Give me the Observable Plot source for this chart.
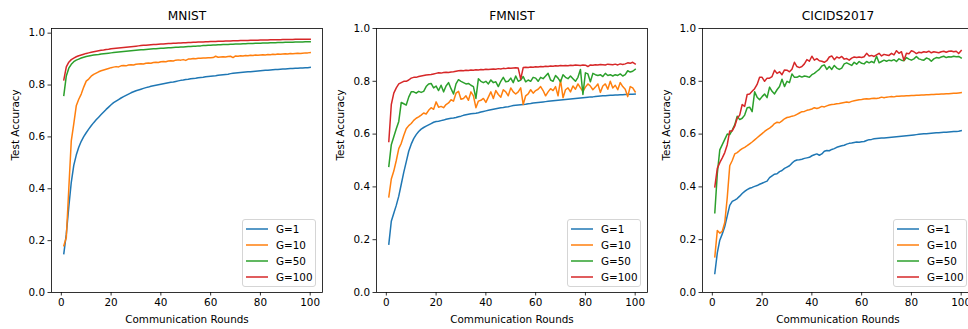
<!DOCTYPE html>
<html>
<head>
<meta charset="utf-8">
<script src="https://cdn.jsdelivr.net/npm/d3@7"></script>
<script src="https://cdn.jsdelivr.net/npm/@observablehq/plot@0.6"></script>
<style>
  body { margin: 0; background: white; }
  #root { position: relative; width: 968px; height: 329px; overflow: hidden; background: white; font-family: "DejaVu Sans", sans-serif; }
  .panel { position: absolute; top: 0; width: 327px; height: 329px; }
  .panel svg { max-width: none !important; display: block; }
  .legend { position: absolute; left: 242px; top: 219px; width: 74px; height: 68px; box-sizing: border-box;
            border: 1px solid #d5d5d5; border-radius: 3px; background: rgba(255,255,255,0.85); }
  .legend .row { position: absolute; left: 3px; height: 14px; display: flex; align-items: center; font-size: 10.4px; color: #000; white-space: nowrap; }
  .legend .row svg { margin-right: 8px; }
</style>
</head>
<body>
<div id="root"></div>
<script>
const titles = ["MNIST", "FMNIST", "CICIDS2017"];
const seriesNames = ["G=1", "G=10", "G=50", "G=100"];
const seriesColors = ["#1f77b4", "#ff7f0e", "#2ca02c", "#d62728"];
const xTicks = [0, 20, 40, 60, 80, 100];
const yTicks = [0, 0.2, 0.4, 0.6, 0.8, 1.0];
const xLabel = "Communication Rounds";
const yLabel = "Test Accuracy";

const mnist1 = [
0.150,0.225,0.330,0.425,0.490,0.530,0.560,0.583,0.601,0.616,
0.630,0.643,0.655,0.666,0.676,0.686,0.696,0.706,0.715,0.724,
0.732,0.738,0.744,0.750,0.755,0.760,0.765,0.770,0.774,0.778,
0.781,0.784,0.787,0.790,0.792,0.795,0.797,0.799,0.801,0.803,
0.805,0.807,0.809,0.811,0.812,0.814,0.816,0.818,0.819,0.821,
0.822,0.824,0.825,0.826,0.828,0.829,0.830,0.832,0.833,0.834,
0.835,0.836,0.838,0.839,0.840,0.841,0.842,0.844,0.845,0.846,
0.847,0.848,0.849,0.850,0.851,0.851,0.852,0.853,0.854,0.855,
0.856,0.857,0.857,0.858,0.859,0.860,0.860,0.861,0.862,0.862,
0.863,0.864,0.864,0.865,0.865,0.866,0.866,0.867,0.867,0.868];
const mnist10 = [
0.180,0.212,0.400,0.585,0.650,0.720,0.745,0.765,0.792,0.815,
0.823,0.834,0.841,0.846,0.851,0.855,0.858,0.861,0.864,0.867,
0.869,0.871,0.870,0.874,0.875,0.874,0.877,0.878,0.877,0.880,
0.881,0.882,0.881,0.884,0.885,0.884,0.887,0.888,0.887,0.890,
0.891,0.890,0.893,0.894,0.893,0.896,0.897,0.896,0.898,0.895,
0.900,0.900,0.902,0.901,0.903,0.903,0.904,0.904,0.905,0.905,
0.906,0.911,0.907,0.908,0.909,0.908,0.910,0.911,0.906,0.912,
0.911,0.913,0.912,0.914,0.913,0.915,0.914,0.916,0.915,0.916,
0.917,0.916,0.918,0.917,0.919,0.918,0.920,0.919,0.920,0.921,
0.920,0.922,0.921,0.922,0.923,0.922,0.923,0.924,0.924,0.925];
const mnist50 = [
0.760,0.835,0.865,0.880,0.890,0.896,0.900,0.904,0.907,0.910,
0.912,0.914,0.916,0.917,0.918,0.920,0.921,0.922,0.923,0.924,
0.925,0.926,0.927,0.928,0.929,0.930,0.931,0.932,0.933,0.934,
0.935,0.936,0.936,0.937,0.938,0.939,0.940,0.940,0.941,0.942,
0.942,0.943,0.944,0.944,0.945,0.946,0.946,0.947,0.947,0.948,
0.949,0.949,0.950,0.950,0.951,0.951,0.952,0.952,0.953,0.953,
0.954,0.954,0.955,0.955,0.956,0.956,0.956,0.957,0.957,0.958,
0.958,0.958,0.959,0.959,0.960,0.960,0.960,0.961,0.961,0.961,
0.962,0.962,0.962,0.963,0.963,0.963,0.964,0.964,0.964,0.965,
0.965,0.965,0.965,0.966,0.966,0.966,0.966,0.967,0.967,0.967];
const mnist100 = [
0.820,0.870,0.888,0.898,0.904,0.909,0.913,0.916,0.919,0.922,
0.924,0.926,0.928,0.930,0.932,0.934,0.935,0.937,0.938,0.940,
0.941,0.942,0.943,0.944,0.945,0.946,0.947,0.948,0.949,0.950,
0.951,0.952,0.953,0.953,0.954,0.955,0.956,0.956,0.957,0.958,
0.958,0.959,0.960,0.960,0.961,0.961,0.962,0.962,0.963,0.963,
0.964,0.964,0.965,0.965,0.966,0.966,0.966,0.967,0.967,0.968,
0.968,0.968,0.969,0.969,0.969,0.970,0.970,0.970,0.971,0.971,
0.971,0.972,0.972,0.972,0.972,0.973,0.973,0.973,0.973,0.974,
0.974,0.974,0.974,0.975,0.975,0.975,0.975,0.975,0.976,0.976,
0.976,0.976,0.976,0.977,0.977,0.977,0.977,0.977,0.977,0.977];

const fmnist1 = [
0.183,0.270,0.300,0.330,0.365,0.410,0.455,0.495,0.535,0.562,
0.583,0.598,0.610,0.619,0.625,0.630,0.635,0.640,0.645,0.648,
0.649,0.651,0.653,0.656,0.658,0.660,0.661,0.663,0.666,0.668,
0.671,0.673,0.675,0.677,0.678,0.679,0.681,0.684,0.686,0.688,
0.690,0.692,0.694,0.696,0.698,0.700,0.701,0.703,0.704,0.706,
0.708,0.709,0.710,0.711,0.712,0.713,0.715,0.716,0.718,0.719,
0.720,0.721,0.722,0.723,0.724,0.725,0.726,0.727,0.728,0.729,
0.730,0.731,0.732,0.733,0.734,0.735,0.736,0.737,0.738,0.739,
0.740,0.741,0.741,0.742,0.743,0.744,0.745,0.745,0.746,0.747,
0.747,0.748,0.748,0.749,0.749,0.750,0.750,0.751,0.751,0.752];
const fmnist10 = [
0.362,0.430,0.460,0.500,0.545,0.565,0.595,0.620,0.632,0.640,
0.652,0.660,0.665,0.672,0.680,0.676,0.690,0.700,0.694,0.722,
0.702,0.705,0.700,0.712,0.718,0.730,0.725,0.755,0.762,0.732,
0.735,0.745,0.728,0.760,0.745,0.700,0.725,0.728,0.735,0.720,
0.740,0.760,0.735,0.765,0.750,0.740,0.768,0.760,0.745,0.775,
0.760,0.752,0.760,0.775,0.712,0.745,0.752,0.768,0.755,0.765,
0.770,0.780,0.765,0.745,0.760,0.772,0.765,0.780,0.745,0.805,
0.738,0.768,0.775,0.760,0.782,0.770,0.790,0.775,0.762,0.778,
0.790,0.782,0.768,0.778,0.790,0.758,0.782,0.790,0.770,0.800,
0.775,0.785,0.768,0.795,0.780,0.770,0.742,0.780,0.775,0.760];
const fmnist50 = [
0.478,0.560,0.590,0.620,0.648,0.720,0.715,0.710,0.740,0.760,
0.760,0.755,0.762,0.758,0.762,0.780,0.790,0.792,0.775,0.782,
0.765,0.785,0.760,0.782,0.795,0.772,0.752,0.790,0.806,0.800,
0.795,0.790,0.792,0.785,0.780,0.735,0.810,0.800,0.795,0.800,
0.790,0.805,0.795,0.798,0.780,0.800,0.815,0.798,0.800,0.812,
0.795,0.820,0.800,0.805,0.818,0.798,0.805,0.800,0.815,0.812,
0.800,0.815,0.810,0.820,0.830,0.805,0.800,0.822,0.812,0.798,
0.825,0.815,0.810,0.820,0.810,0.800,0.815,0.845,0.750,0.832,
0.828,0.798,0.830,0.825,0.822,0.825,0.818,0.830,0.822,0.825,
0.820,0.825,0.822,0.828,0.820,0.825,0.840,0.835,0.838,0.845];
const fmnist100 = [
0.572,0.712,0.755,0.775,0.790,0.795,0.800,0.800,0.805,0.812,
0.815,0.815,0.818,0.820,0.822,0.824,0.825,0.826,0.828,0.830,
0.832,0.831,0.833,0.834,0.833,0.835,0.836,0.838,0.840,0.841,
0.840,0.842,0.841,0.843,0.842,0.844,0.843,0.845,0.844,0.846,
0.845,0.846,0.847,0.846,0.848,0.847,0.849,0.848,0.850,0.849,
0.850,0.851,0.850,0.808,0.852,0.853,0.852,0.854,0.853,0.855,
0.854,0.856,0.855,0.857,0.856,0.858,0.857,0.859,0.858,0.860,
0.859,0.860,0.859,0.861,0.860,0.862,0.861,0.860,0.862,0.861,
0.856,0.862,0.861,0.863,0.862,0.864,0.863,0.862,0.865,0.864,
0.863,0.865,0.862,0.866,0.864,0.866,0.870,0.868,0.872,0.866];

const cic1 = [
0.072,0.150,0.198,0.222,0.250,0.290,0.330,0.345,0.350,0.356,
0.365,0.375,0.383,0.390,0.395,0.398,0.402,0.405,0.410,0.414,
0.418,0.422,0.435,0.442,0.448,0.450,0.458,0.462,0.470,0.475,
0.480,0.490,0.498,0.502,0.503,0.505,0.508,0.510,0.512,0.518,
0.522,0.525,0.520,0.525,0.535,0.538,0.537,0.542,0.545,0.550,
0.553,0.556,0.558,0.562,0.565,0.566,0.568,0.570,0.569,0.571,
0.572,0.576,0.579,0.580,0.582,0.583,0.584,0.585,0.585,0.586,
0.587,0.588,0.589,0.590,0.591,0.592,0.593,0.594,0.595,0.596,
0.597,0.598,0.599,0.600,0.601,0.601,0.602,0.603,0.604,0.605,
0.605,0.606,0.607,0.607,0.608,0.609,0.610,0.610,0.611,0.613];
const cic10 = [
0.135,0.235,0.225,0.232,0.265,0.360,0.480,0.500,0.525,0.530,
0.538,0.545,0.550,0.556,0.563,0.570,0.578,0.586,0.594,0.602,
0.610,0.617,0.623,0.630,0.640,0.645,0.643,0.650,0.658,0.663,
0.665,0.668,0.670,0.675,0.680,0.685,0.686,0.690,0.692,0.695,
0.700,0.697,0.700,0.705,0.703,0.707,0.710,0.712,0.713,0.715,
0.716,0.718,0.720,0.722,0.720,0.724,0.726,0.728,0.730,0.731,
0.733,0.734,0.733,0.735,0.736,0.735,0.737,0.740,0.738,0.740,
0.741,0.742,0.741,0.743,0.743,0.744,0.744,0.745,0.745,0.746,
0.746,0.747,0.747,0.748,0.748,0.749,0.749,0.750,0.750,0.751,
0.751,0.752,0.752,0.753,0.753,0.754,0.755,0.755,0.756,0.757];
const cic50 = [
0.302,0.450,0.540,0.560,0.580,0.600,0.598,0.615,0.635,0.668,
0.655,0.660,0.672,0.700,0.702,0.685,0.760,0.740,0.730,0.742,
0.752,0.738,0.778,0.762,0.752,0.768,0.780,0.808,0.780,0.800,
0.795,0.828,0.815,0.815,0.820,0.816,0.820,0.818,0.815,0.825,
0.830,0.838,0.845,0.858,0.862,0.845,0.856,0.845,0.860,0.850,
0.845,0.850,0.866,0.870,0.865,0.860,0.872,0.865,0.875,0.868,
0.866,0.875,0.870,0.875,0.870,0.895,0.870,0.875,0.880,0.876,
0.880,0.878,0.882,0.875,0.885,0.880,0.878,0.890,0.884,0.880,
0.885,0.894,0.885,0.882,0.880,0.888,0.885,0.876,0.885,0.890,
0.888,0.892,0.895,0.890,0.893,0.892,0.895,0.893,0.894,0.888];
const cic100 = [
0.400,0.470,0.492,0.510,0.530,0.560,0.612,0.612,0.630,0.660,
0.672,0.712,0.705,0.750,0.752,0.762,0.772,0.788,0.815,0.815,
0.800,0.812,0.812,0.818,0.842,0.830,0.836,0.825,0.843,0.842,
0.836,0.846,0.872,0.856,0.852,0.856,0.866,0.882,0.876,0.895,
0.880,0.886,0.878,0.876,0.872,0.878,0.892,0.896,0.882,0.892,
0.888,0.894,0.884,0.886,0.880,0.888,0.892,0.890,0.892,0.890,
0.893,0.906,0.896,0.898,0.894,0.900,0.906,0.896,0.902,0.900,
0.898,0.906,0.900,0.916,0.906,0.912,0.880,0.906,0.904,0.916,
0.912,0.905,0.910,0.908,0.912,0.910,0.914,0.908,0.912,0.910,
0.908,0.912,0.914,0.910,0.914,0.915,0.912,0.914,0.905,0.916];

const panels = [
  {title: titles[0], series: [mnist1, mnist10, mnist50, mnist100], yMax: 1.018, left: 0},
  {title: titles[1], series: [fmnist1, fmnist10, fmnist50, fmnist100], yMax: 1.0, left: 325},
  {title: titles[2], series: [cic1, cic10, cic50, cic100], yMax: 1.0, left: 651}
];

const root = document.getElementById("root");
const NS = "http://www.w3.org/2000/svg";

for (const p of panels) {
  const rows = [];
  p.series.forEach((vals, si) => {
    vals.forEach((v, i) => rows.push({round: i + 1, acc: v, series: seriesNames[si]}));
  });

  const chart = Plot.plot({
    width: 327,
    height: 329,
    marginLeft: 51,
    marginRight: 5,
    marginTop: 28,
    marginBottom: 37,
    style: {fontFamily: "DejaVu Sans", fontSize: "10.4px", color: "black", background: "transparent", overflow: "visible", maxWidth: "none"},
    x: {domain: [-3.95, 104.95]},
    y: {domain: [0, p.yMax]},
    color: {domain: seriesNames, range: seriesColors},
    marks: [
      Plot.line(rows, {x: "round", y: "acc", z: "series", stroke: "series", strokeWidth: 1.5, strokeLinejoin: "round", strokeLinecap: "square"}),
      Plot.frame({stroke: "black", strokeWidth: 0.8}),
      Plot.axisX({ticks: xTicks, tickSize: 3.5, tickPadding: 3, tickFormat: d => String(d), label: null, strokeWidth: 0.8}),
      Plot.axisY({ticks: yTicks, tickSize: 3.5, tickPadding: 3, tickFormat: d => d.toFixed(1), label: null, strokeWidth: 0.8}),
      Plot.text([p.title], {frameAnchor: "top", dy: -12, lineAnchor: "middle", fontSize: 12.2, fontWeight: "normal", text: d => d, fill: "black"}),
      Plot.text([xLabel], {frameAnchor: "bottom", dy: 27, lineAnchor: "middle", fontWeight: "normal", text: d => d, fill: "black"}),
      Plot.text([yLabel], {frameAnchor: "left", dx: -36, rotate: -90, lineAnchor: "middle", fontWeight: "normal", text: d => d, fill: "black"})
    ]
  });
  chart.setAttribute("width", 327);
  chart.setAttribute("height", 329);
  chart.style.width = "327px";
  chart.style.height = "329px";

  const wrap = document.createElement("div");
  wrap.className = "panel";
  wrap.style.left = p.left + "px";
  wrap.appendChild(chart);

  const leg = document.createElement("div");
  leg.className = "legend";
  seriesNames.forEach((name, i) => {
    const row = document.createElement("div");
    row.className = "row";
    row.style.top = (2.3 + i * 15.9) + "px";
    const sw = document.createElementNS(NS, "svg");
    sw.setAttribute("width", "22");
    sw.setAttribute("height", "4");
    const ln = document.createElementNS(NS, "line");
    ln.setAttribute("x1", "0");
    ln.setAttribute("x2", "22");
    ln.setAttribute("y1", "2");
    ln.setAttribute("y2", "2");
    ln.setAttribute("stroke", seriesColors[i]);
    ln.setAttribute("stroke-width", "1.5");
    sw.appendChild(ln);
    row.appendChild(sw);
    const t = document.createElement("span");
    t.textContent = name;
    row.appendChild(t);
    leg.appendChild(row);
  });
  wrap.appendChild(leg);
  root.appendChild(wrap);
}
</script>
</body>
</html>
